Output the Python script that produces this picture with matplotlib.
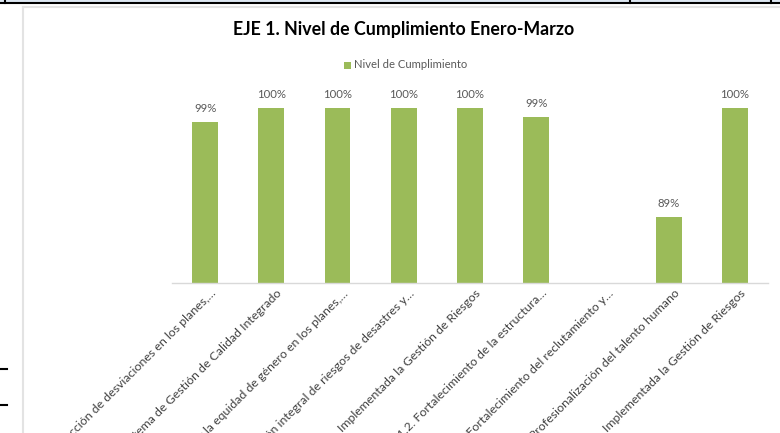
import numpy as np
import matplotlib
matplotlib.use("Agg")
import matplotlib.pyplot as plt
from matplotlib.lines import Line2D
from matplotlib.transforms import ScaledTranslation

categories = [
    "Detección de desviaciones en los planes,…",
    "Implementado el Sistema de Gestión de Calidad Integrado",
    "Incorporar la equidad de género en los planes,…",
    "Gestión integral de riesgos de desastres y…",
    "Implementada la Gestión de Riesgos",
    "1.1.2. Fortalecimiento de la estructura…",
    "1.1.3. Fortalecimiento del reclutamiento y…",
    "Profesionalización del talento humano",
    "Implementada la Gestión de Riesgos",
]
values = [98.6, 100, 100, 100, 100, 99.1, np.nan, 89, 100]
value_labels = ["99%", "100%", "100%", "100%", "100%", "99%", "", "89%", "100%"]
title = "EJE 1. Nivel de Cumplimiento Enero-Marzo"
series_name = "Nivel de Cumplimiento"

W, H = 780, 433
fig = plt.figure(figsize=(W / 100, H / 100), dpi=100)
plt.rcParams['font.family'] = ['Lato', 'DejaVu Sans']

def fx(x):
    return x / W

def fy(y):
    return 1 - y / H

# spreadsheet artifacts
fig.add_artist(plt.Rectangle((0, fy(2.5)), 1, 2.5 / H, transform=fig.transFigure,
                             color="#DCE6F1", lw=0))
fig.add_artist(Line2D([0, 1], [fy(3), fy(3)], transform=fig.transFigure, color="black", lw=1.5))
for xv in [5, 630, 771]:
    fig.add_artist(Line2D([fx(xv), fx(xv)], [fy(0), fy(3)], transform=fig.transFigure,
                          color="black", lw=1.5))
for yv in [369, 405]:
    fig.add_artist(Line2D([0, fx(7)], [fy(yv), fy(yv)], transform=fig.transFigure,
                          color="black", lw=1.5))
# chart border
fig.add_artist(Line2D([fx(23), fx(23)], [fy(7), 0], transform=fig.transFigure,
                      color="#E3E3E3", lw=1.5))
fig.add_artist(Line2D([fx(23), 1], [fy(7), fy(7)], transform=fig.transFigure,
                      color="#E3E3E3", lw=1.5))

# axes: x from 172 to 768 px, y bottom 283 px, top 88 px
left, right, top, bottom = 172, 768, 88, 283
ax = fig.add_axes([fx(left), fy(bottom), (right - left) / W, (bottom - top) / H])
px_per = 109 / 11.0
ymin = 100 - (bottom - 108) / px_per
ymax = 100 + (108 - top) / px_per
ax.set_ylim(ymin, ymax)
ax.set_xlim(-0.5, len(categories) - 0.5)

x = np.arange(len(categories))
bar_vals = np.nan_to_num(np.array(values, dtype=float), nan=ymin)
bars = ax.bar(x, bar_vals, width=0.39, color="#9BBB59", zorder=2)
for xi, v, lab in zip(x, values, value_labels):
    if lab and not np.isnan(v):
        ax.annotate(lab, (xi, v), xytext=(0, 5.5), textcoords="offset points",
                    ha="center", va="bottom", fontsize=8.2, color="#595959")

for s in ["left", "right", "top"]:
    ax.spines[s].set_visible(False)
ax.spines["bottom"].set_color("#D9D9D9")
ax.spines["bottom"].set_linewidth(1)
ax.set_yticks([])
ax.set_xticks(x)
ax.set_xticklabels(categories, rotation=45, ha="right", rotation_mode="anchor",
                   fontsize=8.9, color="#404040")
ax.tick_params(axis="x", length=0, pad=4)
shift = ScaledTranslation(5 / 100, 1 / 100, fig.dpi_scale_trans)
for t in ax.get_xticklabels():
    t.set_transform(t.get_transform() + shift)

fig.text(fx(404), fy(30), title, ha="center", va="center", fontsize=12.8,
         fontweight="bold", color="#000000")
# legend
fig.add_artist(plt.Rectangle((fx(344), fy(68.5)), 7 / W, 7 / H, transform=fig.transFigure,
                             color="#9BBB59", lw=0))
fig.text(fx(354), fy(64.5), series_name, ha="left", va="center", fontsize=8.1, color="#595959")

fig.savefig("out.png", dpi=100)
